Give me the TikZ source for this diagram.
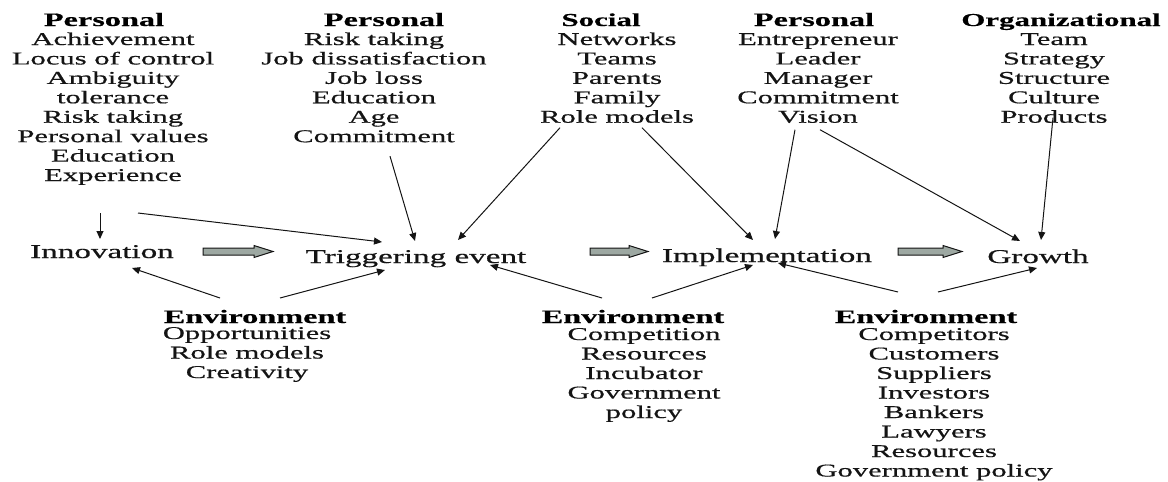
\documentclass[tikz,border=0pt]{standalone}
\usepackage{fontspec}
\setmainfont{Liberation Serif}[FakeStretch=1.7]
\newfontfamily\regfont{Liberation Serif}[FakeStretch=1.7,FakeBold=0.6]
\newfontfamily\hdfont{Liberation Serif Bold}[FakeStretch=1.7,FakeBold=0.5]
\usetikzlibrary{arrows.meta,calc}
\definecolor{blkgrey}{HTML}{9DA8A2}
\definecolor{ink}{HTML}{141414}
\begin{document}
\begin{tikzpicture}[x=1pt,y=-1pt,
  lst/.style={inner sep=0pt,anchor=base,font=\regfont\fontsize{18}{19.5}\selectfont,text=ink},
  hd/.style={inner sep=0pt,anchor=base,font=\hdfont\fontsize{#1}{20}\selectfont,text=black},
  hd/.default=19,
  stage/.style={inner sep=0pt,anchor=base,font=\regfont\fontsize{19.5}{21}\selectfont,text=ink},
  arr/.style={draw=ink,line width=1pt,-{Triangle[length=8pt,width=7pt]}},
  blk/.style={draw=ink,line width=1pt,fill=blkgrey,line join=miter}]
\useasboundingbox (0,0) rectangle (1168,482);

% top columns
\node[hd] (h1) at (104,26) {Personal};
\foreach \t [count=\i] in {Achievement,Locus of control,Ambiguity,tolerance,Risk taking,Personal values,Education,Experience}
  \node[lst] (c1-\i) at (113,{45+19.43*(\i-1)}) {\t};

\node[hd] (h2) at (384,26) {Personal};
\foreach \t [count=\i] in {Risk taking,Job dissatisfaction,Job loss,Education,Age,Commitment}
  \node[lst] (c2-\i) at (374,{45+19.43*(\i-1)}) {\t};

\node[hd=18.2] (h3) at (601,26) {Social};
\foreach \t [count=\i] in {Networks,Teams,Parents,Family,Role models}
  \node[lst] (c3-\i) at (617,{45+19.43*(\i-1)}) {\t};

\node[hd] (h4) at (814,26) {Personal};
\foreach \t [count=\i] in {Entrepreneur,Leader,Manager,Commitment,Vision}
  \node[lst] (c4-\i) at (818,{45+19.43*(\i-1)}) {\t};

\node[hd=18.2] (h5) at (1061,26) {Organizational};
\foreach \t [count=\i] in {Team,Strategy,Structure,Culture,Products}
  \node[lst] (c5-\i) at (1054,{45+19.43*(\i-1)}) {\t};

% stages
\node[stage] (inno) at (102,258) {Innovation};
\node[stage] (trig) at (416,263) {Triggering event};
\node[stage] (impl) at (767,262) {Implementation};
\node[stage] (grow) at (1038,263) {Growth};

% environment blocks
\node[hd] (e1) at (255,323) {Environment};
\foreach \t [count=\i] in {Opportunities,Role models,Creativity}
  \node[lst] (e1-\i) at (247,{339+19.5*(\i-1)}) {\t};

\node[hd] (e2) at (633,323) {Environment};
\foreach \t [count=\i] in {Competition,Resources,Incubator,Government,policy}
  \node[lst] (e2-\i) at (644,{340+19.5*(\i-1)}) {\t};

\node[hd] (e3) at (926,323) {Environment};
\foreach \t [count=\i] in {Competitors,Customers,Suppliers,Investors,Bankers,Lawyers,Resources,Government policy}
  \node[lst] (e3-\i) at (934,{340+19.5*(\i-1)}) {\t};

% block arrows between stages
\coordinate (b1) at (203,251.5);
\coordinate (b2) at (590,251.5);
\coordinate (b3) at (898,251.5);
\draw[blk] (b1) ++(0,-3.5) -- ++(51,0) -- ++(0,-2.5) -- ++(19,6) -- ++(-19,6) -- ++(0,-2.5) -- ++(-51,0) -- cycle;
\draw[blk] (b2) ++(0,-3.5) -- ++(39,0) -- ++(0,-2.5) -- ++(19,6) -- ++(-19,6) -- ++(0,-2.5) -- ++(-39,0) -- cycle;
\draw[blk] (b3) ++(0,-3.5) -- ++(45,0) -- ++(0,-2.5) -- ++(19,6) -- ++(-19,6) -- ++(0,-2.5) -- ++(-45,0) -- cycle;

% arrows from top factors
\draw[arr] ([shift={(-13,32)}]c1-8.base) -- ([shift={(-2,-19)}]inno.base);
\draw[arr] ([shift={(25,32)}]c1-8.base) -- ([shift={(-34,-21)}]trig.base);
\draw[arr] ([shift={(16,14)}]c2-6.base) -- ([shift={(-1,-22)}]trig.base);
\draw[arr] ([shift={(-57,5)}]c3-5.base) -- ([shift={(42,-23)}]trig.base);
\draw[arr] ([shift={(25,5)}]c3-5.base) -- ([shift={(-14,-22)}]impl.base);
\draw[arr] ([shift={(-23,7)}]c4-5.base) -- ([shift={(8,-23)}]impl.base);
\draw[arr] ([shift={(2,7)}]c4-5.base) -- ([shift={(-18,-22)}]grow.base);
\draw[arr] ([shift={(-1,-5)}]c5-5.base) -- ([shift={(3,-23)}]grow.base);

% arrows from environment
\draw[arr] ([shift={(-35,-25)}]e1.base) -- ([shift={(30,10)}]inno.base);
\draw[arr] ([shift={(25,-25)}]e1.base) -- ([shift={(-31,7)}]trig.base);
\draw[arr] ([shift={(-31,-25)}]e2.base) -- ([shift={(74,2)}]trig.base);
\draw[arr] ([shift={(19,-25)}]e2.base) -- ([shift={(-14,3)}]impl.base);
\draw[arr] ([shift={(-28,-31)}]e3.base) -- ([shift={(11,1)}]impl.base);
\draw[arr] ([shift={(12,-31)}]e3.base) -- ([shift={(-1,5)}]grow.base);
\end{tikzpicture}
\end{document}
